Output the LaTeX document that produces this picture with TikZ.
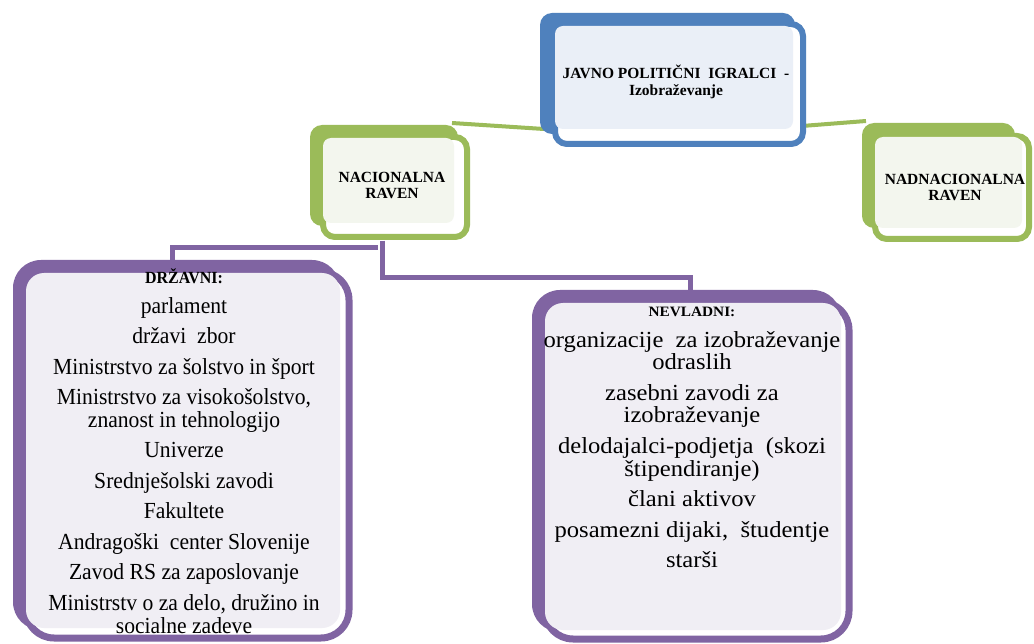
\documentclass[tikz,border=0pt]{standalone}
\usepackage{graphicx}
\usepackage{fontspec}
\setmainfont{Liberation Serif}
\definecolor{cblue}{HTML}{4F81BD}
\definecolor{lblue}{HTML}{EAEFF7}
\definecolor{cgreen}{HTML}{9BBB59}
\definecolor{lgreen}{HTML}{F3F6EE}
\definecolor{cpurple}{HTML}{8064A2}
\definecolor{lpurple}{HTML}{F0EEF4}
\begin{document}
\begin{tikzpicture}[x=1pt,y=-1pt,
  boxarea/.style={inner sep=0pt, outer sep=0pt, draw=none},
  greenline/.style={draw=cgreen, line width=4pt, preaction={draw=white, line width=7pt}},
  purpleline/.style={draw=cpurple, line width=5pt, preaction={draw=white, line width=8pt}},
  titletext/.style={font=\fontsize{15.5}{14}\selectfont\bfseries, align=center, inner sep=0pt},
  bodytext/.style={font=\fontsize{23}{22}\selectfont, inner sep=0pt, anchor=north},
  backshape/.style={fill=#1},
  frontshape/.style={draw=#1, fill=white},
]
\useasboundingbox (0,0) rectangle (1034,644);
\fill[white] (0,0) rectangle (1034,644);

% invisible box areas used for connectors
\node[boxarea, minimum width=266pt, minimum height=134pt] (top) at (673,80) {};
\node[boxarea, minimum width=160pt, minimum height=116pt] (nac) at (390,183) {};
\node[boxarea, minimum width=170pt, minimum height=120pt] (nad) at (947,183) {};
\node[boxarea, minimum width=341pt, minimum height=383pt] (drz) at (182.5,451.5) {};
\node[boxarea, minimum width=322pt, minimum height=353pt] (nev) at (693,466.5) {};

% connectors
\draw[greenline] ([xshift=-18pt,yshift=2pt]nac.north east) -- ([xshift=4pt,yshift=18pt]top.south west);
\draw[greenline] ([xshift=-4pt,yshift=-46pt]top.east) -- ([xshift=4pt,yshift=62pt]nad.west);
\draw[purpleline] ([xshift=-8pt]nac.south) |- ([xshift=-10.5pt,yshift=12pt]drz.north) -- ([xshift=-10.5pt]drz.north);
\draw[purpleline] ([xshift=-8pt]nac.south) |- ([xshift=-3pt,yshift=12pt]nev.north) -- ([xshift=-3pt]nev.north);

% blue top box
\fill[backshape=cblue, rounded corners=12pt] (540,13) rectangle (795,134);
\draw[frontshape=cblue, line width=6pt, rounded corners=12pt] (555,24) rectangle (803,144);
\fill[lblue, rounded corners=8pt] (555,26) rectangle (793,129);

% green NACIONALNA box
\fill[backshape=cgreen, rounded corners=12pt] (310,125) rectangle (458,226);
\draw[frontshape=cgreen, line width=6pt, rounded corners=12pt] (323,137) rectangle (467,237);
\fill[lgreen, rounded corners=8pt] (323,138) rectangle (454,223);

% green NADNACIONALNA box
\fill[backshape=cgreen, rounded corners=12pt] (862,123) rectangle (1015,228);
\draw[frontshape=cgreen, line width=6pt, rounded corners=12pt] (875,136) rectangle (1029,239);
\fill[lgreen, rounded corners=8pt] (875,137) rectangle (1022,228);

% purple DRZAVNI box
\fill[backshape=cpurple, rounded corners=28pt] (13,260) rectangle (340,630);
\draw[frontshape=cpurple, line width=7pt, rounded corners=28pt] (26,272) rectangle (349,638);
\fill[lpurple, rounded corners=18pt] (26,273) rectangle (340,628);

% purple NEVLADNI box
\fill[backshape=cpurple, rounded corners=28pt] (532,290) rectangle (841,632);
\draw[frontshape=cpurple, line width=7pt, rounded corners=28pt] (545,302) rectangle (849,639);
\fill[lpurple, rounded corners=18pt] (545,303) rectangle (841,630);

% texts
\node[titletext] (ttop) at (676,82) {JAVNO POLITIČNI\ \ IGRALCI\ \ -\\[3pt]Izobraževanje};
\node[titletext] (tnac) at (392,185) {NACIONALNA\\[2pt]RAVEN};
\node[titletext] (tnad) at (955,187) {NADNACIONALNA\\[2pt]RAVEN};

\node[bodytext] (tdrz) at (184,268) {\scalebox{0.94}[1]{\begin{tabular}{@{}c@{}}
{\fontsize{17}{14}\selectfont\bfseries DRŽAVNI:}\\[7pt]
parlament\\[8pt]
državi\ \ zbor\\[8pt]
Ministrstvo za šolstvo in šport\\[8pt]
Ministrstvo za visokošolstvo,\\
znanost in tehnologijo\\[8pt]
Univerze\\[8pt]
Srednješolski zavodi\\[8pt]
Fakultete\\[8pt]
Andragoški\ \ center Slovenije\\[8pt]
Zavod RS za zaposlovanje\\[8pt]
Ministrstv o za delo, družino in\\
socialne zadeve
\end{tabular}}};

\node[bodytext] (tnev) at (692,301) {\scalebox{1.07}[1]{\begin{tabular}{@{}c@{}}
{\fontsize{14.3}{14}\selectfont\bfseries NEVLADNI:}\\[8pt]
organizacije\ \ za izobraževanje\\
odraslih\\[8pt]
zasebni zavodi za\\
izobraževanje\\[8pt]
delodajalci-podjetja\ \ (skozi\\
štipendiranje)\\[8pt]
člani aktivov\\[8pt]
posamezni dijaki,\ \ študentje\\[8pt]
starši
\end{tabular}}};
\end{tikzpicture}
\end{document}
